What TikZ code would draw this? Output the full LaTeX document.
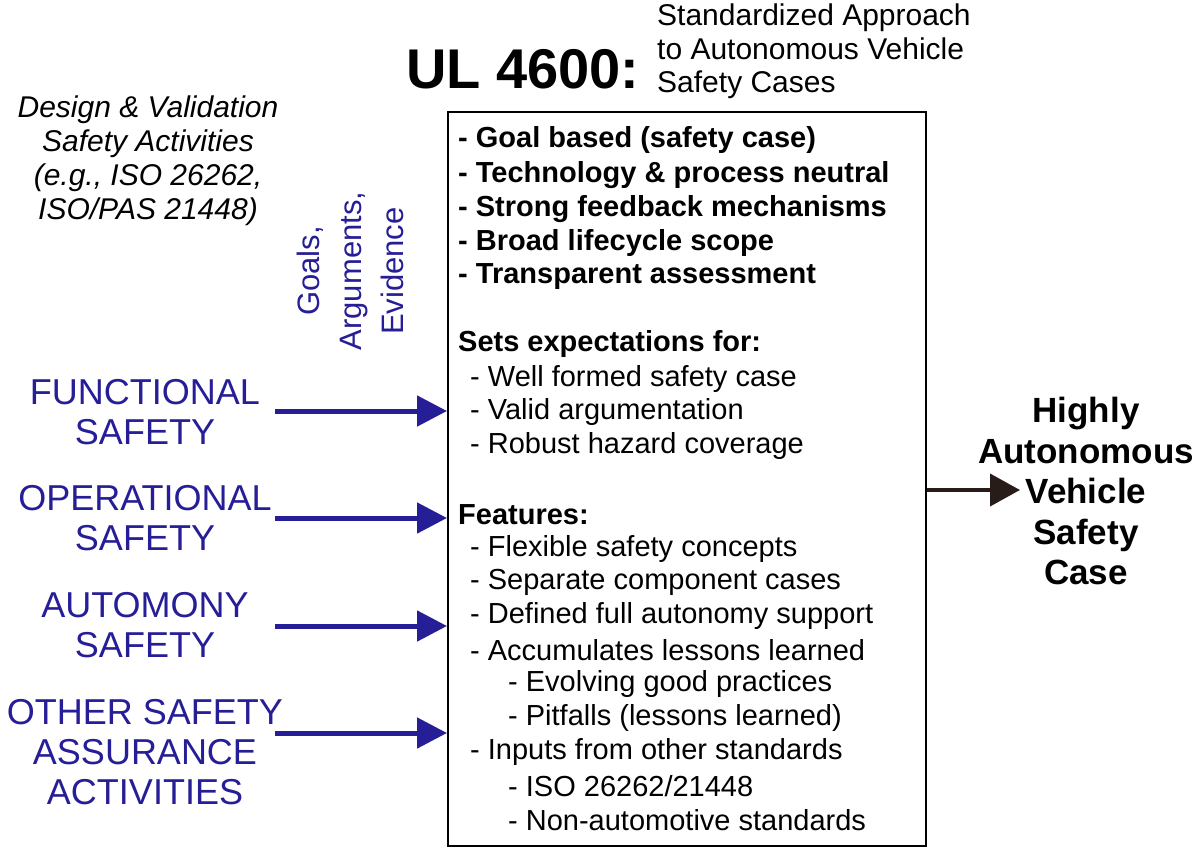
\documentclass[tikz,border=0pt]{standalone}
\usepackage{fontspec}
\setmainfont{Liberation Sans}
\usetikzlibrary{arrows.meta}
\definecolor{navy}{RGB}{38,30,150}
\definecolor{darkout}{RGB}{40,28,24}
\tikzset{
  bluelab/.style={text=navy,align=center,font=\fontsize{36}{40}\selectfont,inner sep=0},
  inarrow/.style={draw=navy,line width=5pt,-{Triangle[length=30pt,width=30pt]}},
  boxline/.style={anchor=west,inner sep=0,font=\fontsize{29}{30}\selectfont},
  boldline/.style={boxline,font=\fontsize{29}{30}\selectfont\bfseries}
}
\begin{document}
\begin{tikzpicture}[x=1pt,y=-1pt]
\useasboundingbox (0,0) rectangle (1200,855);
\node[draw,line width=2pt,minimum width=478pt,minimum height=734pt,anchor=north west,inner sep=0] (box) at (447,111) {};
\node[anchor=base west,inner sep=0,font=\fontsize{56}{60}\selectfont\bfseries] (title) at (406,88) {UL 4600:};
\node[anchor=north west,align=left,inner sep=0,font=\fontsize{30}{33.5}\selectfont] (sub) at (657,4) {Standardized Approach\\to Autonomous Vehicle\\Safety Cases};
\node[align=center,inner sep=0,font=\fontsize{30}{34}\itshape] (des) at (148,161) {Design \& Validation\\Safety Activities\\(e.g., ISO 26262,\\ISO/PAS 21448)};
\node[rotate=90,text=navy,align=center,inner sep=0,font=\fontsize{31}{42}\selectfont] (gae) at (350,271) {Goals,\\Arguments,\\Evidence};
% box contents
\node[boldline] (b1) at (458,140) {- Goal based (safety case)};
\node[boldline] (b2) at (458,175) {- Technology \& process neutral};
\node[boldline] (b3) at (458,209) {- Strong feedback mechanisms};
\node[boldline] (b4) at (458,243) {- Broad lifecycle scope};
\node[boldline] (b5) at (458,277) {- Transparent assessment};
\node[boldline] (s0) at (458,344) {Sets expectations for:};
\node[boxline] (s1) at (470,379) {- Well formed safety case};
\node[boxline] (s2) at (470,412) {- Valid argumentation};
\node[boxline] (s3) at (470,446) {- Robust hazard coverage};
\node[boldline] (f0) at (458,515) {Features:};
\node[boxline] (f1) at (470,549) {- Flexible safety concepts};
\node[boxline] (f2) at (470,582) {- Separate component cases};
\node[boxline] (f3) at (470,616) {- Defined full autonomy support};
\node[boxline] (f4) at (470,650) {- Accumulates lessons learned};
\node[boxline] (f5) at (508,684) {- Evolving good practices};
\node[boxline] (f6) at (508,718) {- Pitfalls (lessons learned)};
\node[boxline] (f7) at (470,752) {- Inputs from other standards};
\node[boxline] (f8) at (508,786) {- ISO 26262/21448};
\node[boxline] (f9) at (508,820) {- Non-automotive standards};
% left labels
\node[bluelab] (fs) at (145,412) {FUNCTIONAL\\SAFETY};
\node[bluelab] (os) at (145,518) {OPERATIONAL\\SAFETY};
\node[bluelab] (as) at (145,625) {AUTOMONY\\SAFETY};
\node[bluelab] (oa) at (145,752) {OTHER SAFETY\\ASSURANCE\\ACTIVITIES};
\coordinate (a1) at (275,411); \coordinate (a2) at (275,518);
\coordinate (a3) at (275,626); \coordinate (a4) at (275,733);
\draw[inarrow] (a1) -- (a1 -| box.west);
\draw[inarrow] (a2) -- (a2 -| box.west);
\draw[inarrow] (a3) -- (a3 -| box.west);
\draw[inarrow] (a4) -- (a4 -| box.west);
% output
\node[align=center,inner sep=0,font=\fontsize{35}{40.5}\selectfont\bfseries] (out) at (1086,491) {Highly\\Autonomous\\Vehicle\\Safety\\Case};
\coordinate (o1) at (1020,490);
\draw[draw=darkout,line width=4pt,-{Triangle[length=30pt,width=32pt]}] (box.east |- o1) -- (o1);
\end{tikzpicture}
\end{document}
